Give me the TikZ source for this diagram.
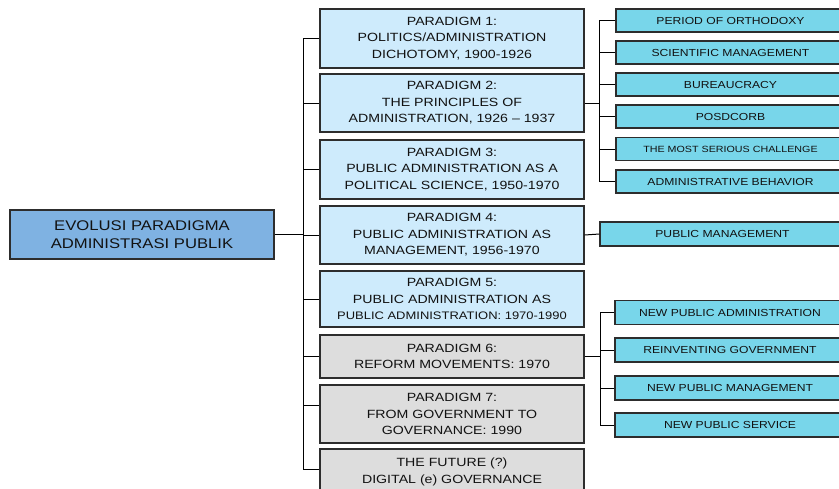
\documentclass[tikz,border=0pt]{standalone}
\usepackage{fontspec}
\setmainfont[FakeStretch=1.19]{Liberation Sans}
\definecolor{rootfill}{RGB}{127,178,226}
\definecolor{parfill}{RGB}{206,235,252}
\definecolor{greyfill}{RGB}{221,221,221}
\definecolor{kidfill}{RGB}{120,214,234}
\definecolor{edge}{RGB}{45,45,45}
\definecolor{txt}{RGB}{18,18,18}
\begin{document}
\begin{tikzpicture}[x=1pt,y=-1pt,
  box/.style={draw=edge, line width=1.2pt, inner sep=0pt, align=center, text=txt},
  rootbox/.style={box, fill=rootfill, minimum width=264pt, minimum height=49pt,
     font=\fontsize{14}{17.5}\selectfont},
  parbox/.style={box, fill=parfill, minimum width=264pt,
     font=\fontsize{11.9}{16.5}\selectfont},
  greybox/.style={parbox, fill=greyfill},
  kidbox/.style={box, fill=kidfill, minimum height=23pt,
     font=\fontsize{10.2}{12}\selectfont},
  link/.style={draw=black, line width=1pt}]
\path[use as bounding box, clip] (0,0) rectangle (839,488);
\fill[white] (0,0) rectangle (839,488);
% root
\node[rootbox] (root) at (142,234.5) {EVOLUSI PARADIGMA\\ADMINISTRASI PUBLIK};
% paradigms
\node[parbox, minimum height=59pt] (p1) at (452,38.5) {PARADIGM 1:\\POLITICS/ADMINISTRATION\\DICHOTOMY, 1900-1926};
\node[parbox, minimum height=58pt] (p2) at (452,103) {PARADIGM 2:\\THE PRINCIPLES OF\\ADMINISTRATION, 1926 -- 1937};
\node[parbox, minimum height=59pt] (p3) at (452,169.5) {PARADIGM 3:\\PUBLIC ADMINISTRATION AS A\\POLITICAL SCIENCE, 1950-1970};
\node[parbox, minimum height=58pt] (p4) at (452,235) {PARADIGM 4:\\PUBLIC ADMINISTRATION AS\\MANAGEMENT, 1956-1970};
\node[parbox, minimum height=56pt] (p5) at (452,299) {PARADIGM 5:\\PUBLIC ADMINISTRATION AS\\{\fontsize{10.9}{16.5}\selectfont PUBLIC ADMINISTRATION: 1970-1990}};
\node[greybox, minimum height=43pt] (p6) at (452,356.5) {PARADIGM 6:\\REFORM MOVEMENTS: 1970};
\node[greybox, minimum height=58pt] (p7) at (452,414) {PARADIGM 7:\\FROM GOVERNMENT TO\\GOVERNANCE: 1990};
\node[greybox, minimum height=46pt] (p8) at (452,472) {THE FUTURE (?)\\DIGITAL (e) GOVERNANCE};
% group 1 children
\node[kidbox, minimum width=229pt] (c1) at (730.5,20.5) {PERIOD OF ORTHODOXY};
\node[kidbox, minimum width=229pt] (c2) at (730.5,52.5) {SCIENTIFIC MANAGEMENT};
\node[kidbox, minimum width=229pt] (c3) at (730.5,84.5) {BUREAUCRACY};
\node[kidbox, minimum width=229pt] (c4) at (730.5,116.5) {POSDCORB};
\node[kidbox, minimum width=229pt, font=\fontsize{9}{11}\selectfont] (c5) at (730.5,149) {THE MOST SERIOUS CHALLENGE};
\node[kidbox, minimum width=229pt] (c6) at (730.5,181.5) {ADMINISTRATIVE BEHAVIOR};
% paradigm 4 child
\node[kidbox, minimum width=245pt, minimum height=24pt] (pm) at (722.5,234) {PUBLIC MANAGEMENT};
% group 2 children
\node[kidbox, minimum width=230pt, minimum height=24pt] (n1) at (730,312.5) {NEW PUBLIC ADMINISTRATION};
\node[kidbox, minimum width=230pt, minimum height=24pt] (n2) at (730,350) {REINVENTING GOVERNMENT};
\node[kidbox, minimum width=230pt, minimum height=24pt] (n3) at (730,388) {NEW PUBLIC MANAGEMENT};
\node[kidbox, minimum width=230pt, minimum height=24pt] (n4) at (730,425) {NEW PUBLIC SERVICE};
% trunk
\coordinate (tk) at (303,0);
\coordinate (g1) at (599,0);
\coordinate (g2) at (600,0);
\path[link] (root.east) -- (root.east -| tk);
\path[link] (p1.west -| tk) -- ([yshift=3pt]p8.west -| tk);
\foreach \n in {p1,p2,p3,p4,p5,p6} {\path[link] (\n.west) -- (\n.west -| tk);}
\path[link] ([yshift=9pt]p7.west) -- ([yshift=9pt]p7.west -| tk);
\path[link] ([yshift=3pt]p8.west) -- ([yshift=3pt]p8.west -| tk);
% group 1 links
\path[link] (p2.east) -- (p2.east -| g1);
\path[link] (c1.west -| g1) -- (c6.west -| g1);
\foreach \n in {c1,c2,c3,c4,c5,c6} {\path[link] (\n.west) -- (\n.west -| g1);}
% paradigm 4 link
\path[link] (p4.east) -- (pm.west);
% group 2 links
\path[link] (p6.east) -- (p6.east -| g2);
\path[link] (n1.west -| g2) -- (n4.west -| g2);
\foreach \n in {n1,n2,n3,n4} {\path[link] (\n.west) -- (\n.west -| g2);}
\end{tikzpicture}
\end{document}
